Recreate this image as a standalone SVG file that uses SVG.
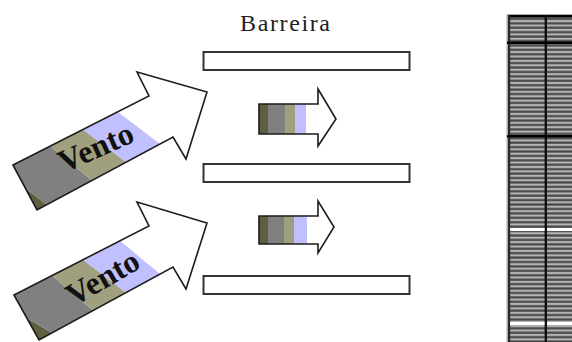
<svg xmlns="http://www.w3.org/2000/svg" width="572" height="342" viewBox="0 0 572 342">
<defs>
<pattern id="st" x="0" y="14" width="10" height="4.42" patternUnits="userSpaceOnUse"><rect width="10" height="4.42" fill="#484848"/><rect y="1.6" width="10" height="2.2" fill="#b4b4b4"/></pattern>
</defs>
<style>
.o{fill:none;stroke:#1c1c1c;stroke-width:1.6;stroke-linejoin:miter}
.bar{fill:#fff;stroke:#333;stroke-width:2}
.v{font-family:"Liberation Serif",serif;font-weight:bold;font-size:32px;fill:#111;text-anchor:middle}
.c1{fill:#5f5f3f}.c2{fill:#808080}.c3{fill:#a0a080}.c4{fill:#c0c0ff}
</style>
<rect width="572" height="342" fill="#fff"/>
<text x="240" y="31" font-family="'Liberation Serif',serif" font-size="24" fill="#222" textLength="90" lengthAdjust="spacing">Barreira</text>
<g id="barreira1"><rect class="bar" x="203.5" y="52" width="206" height="18"/></g>
<g id="barreira2"><rect class="bar" x="203.5" y="164" width="206" height="18"/></g>
<g id="barreira3"><rect class="bar" x="203.5" y="276" width="206" height="18"/></g>
<g id="vento1">
<polygon class="c1" points="25.3,188 37,210 47,205"/>
<polygon class="c2" points="13,165 50,146 92,180.5 47,205 25.3,188"/>
<polygon class="c3" points="50,146 83,129.5 126,162 92,180.5"/>
<polygon class="c4" points="83,129.5 118,112 160,144 126,162"/>
<polygon class="o" points="13,165 149,96 137,72 207,92 186,159 173,137 37,210"/>
<text class="v" transform="translate(100,157) rotate(-24)">Vento</text>
</g>
<g id="vento2">
<polygon class="c1" points="26.8,318 39,340 52,333"/>
<polygon class="c2" points="14,295 52,275.6 93,310.6 52,333 26.8,318"/>
<polygon class="c3" points="52,275.6 83,259.7 126,292.6 93,310.6"/>
<polygon class="c4" points="83,259.7 120,240.8 160,274 126,292.6"/>
<polygon class="o" points="14,295 149,226 137,202 207,223 186,289 173,267 39,340"/>
<text class="v" transform="translate(108,287) rotate(-30)">Vento</text>
</g>
<g id="seta1">
<rect class="c1" x="259" y="104" width="9" height="30"/><rect class="c2" x="268" y="104" width="17" height="30"/><rect class="c3" x="285" y="104" width="10" height="30"/><rect class="c4" x="295" y="104" width="11" height="30"/>
<polygon class="o" points="259,104 318,104 318,89 336,119 318,146 318,134 259,134"/>
</g>
<g id="seta2">
<rect class="c1" x="259" y="216" width="9" height="28"/><rect class="c2" x="268" y="216" width="16" height="28"/><rect class="c3" x="284" y="216" width="10" height="28"/><rect class="c4" x="294" y="216" width="13" height="28"/>
<polygon class="o" points="259,216 318,216 318,201 334,227 318,253 318,244 259,244"/>
</g>
<g id="tabela">
<rect x="508" y="15" width="64" height="327" fill="url(#st)"/>
<rect x="507" y="14" width="65" height="1" fill="#aaa"/>
<rect x="507" y="15" width="65" height="2.5" fill="#000"/>
<rect x="506.5" y="14" width="1.5" height="328" fill="#aaa"/>
<rect x="508" y="15" width="2.2" height="327" fill="#2a2a2a"/>
<rect x="544.6" y="15" width="2.4" height="327" fill="#111"/>
<rect x="507" y="41.5" width="65" height="2.5" fill="#000"/>
<rect x="507" y="135" width="65" height="2.5" fill="#000"/>
<rect x="510" y="228" width="34.6" height="3" fill="#fff"/><rect x="547" y="228" width="25" height="3" fill="#fff"/>
<rect x="510" y="322" width="34.6" height="3" fill="#fff"/><rect x="547" y="322" width="25" height="3" fill="#fff"/>
</g>
</svg>
